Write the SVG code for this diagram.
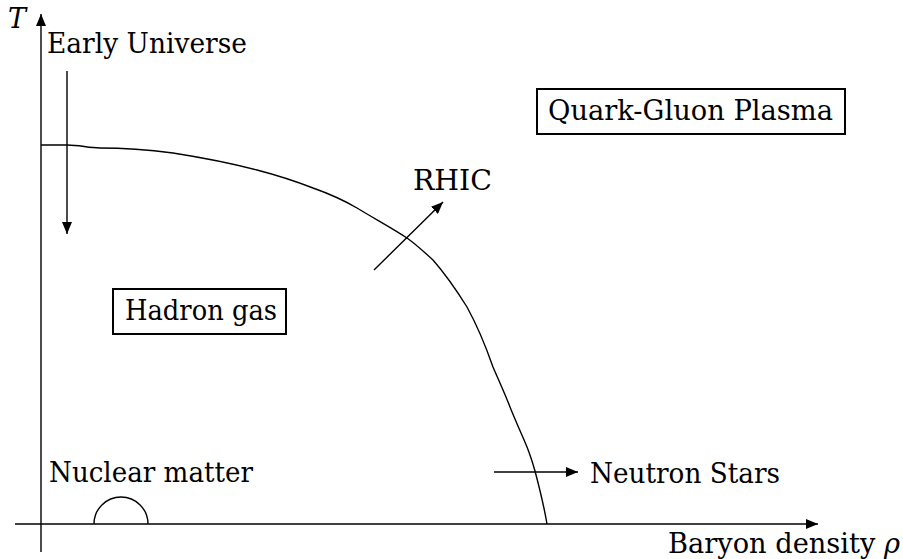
<svg xmlns="http://www.w3.org/2000/svg" width="903" height="559" viewBox="0 0 903 559">
<style>
.t{font-family:'DejaVu Serif','Liberation Serif',serif;font-size:27px;fill:#000}
.ln{stroke:#000;fill:none;stroke-width:1.4}
.box{stroke:#000;fill:#fff;stroke-width:2}
</style>
<defs>
<marker id="ah" markerUnits="userSpaceOnUse" markerWidth="14" markerHeight="10" refX="12" refY="5" orient="auto">
<path d="M0,0 L12,5 L0,10 Z" fill="#000"/>
</marker>
</defs>
<rect width="903" height="559" fill="#fff"/>
<g id="connectors">
<line class="ln" x1="41" y1="552" x2="41" y2="14" marker-end="url(#ah)"/>
<line class="ln" x1="15" y1="524" x2="818" y2="524" marker-end="url(#ah)"/>
<path class="ln" stroke-width="1.2" d="M41,145 L67,145 C80,145 88,148 100,148 C130,148 150,150 173,153 C205,158 230,163 257,170 C280,176 295,181 313,188 C330,194 345,201 357,208 C375,219 392,228 407,238 C417,245 425,253 433,260 C447,276 457,291 467,307 C478,327 486,347 493,367 C499,381 505,394 510,407 C516,422 522,435 527,447 C531,457 533,464 535,471 C540,490 544,506 547,524"/>
<line class="ln" x1="67" y1="71" x2="67" y2="234" marker-end="url(#ah)"/>
<line class="ln" x1="374" y1="270" x2="443" y2="202" marker-end="url(#ah)"/>
<line class="ln" x1="494" y1="472" x2="578" y2="472" marker-end="url(#ah)"/>
<path class="ln" d="M94,524 A27,27 0 0 1 148,524"/>
</g>
<g id="axis-T"><text class="t" x="8" y="28" font-style="italic">T</text></g>
<g id="axis-rho"><text class="t" x="668" y="553" textLength="232" lengthAdjust="spacingAndGlyphs">Baryon density <tspan font-style="italic">ρ</tspan></text></g>
<g id="early-universe"><text class="t" x="47" y="53" textLength="200" lengthAdjust="spacingAndGlyphs">Early Universe</text></g>
<g id="rhic"><text class="t" x="413" y="190" textLength="79" lengthAdjust="spacingAndGlyphs">RHIC</text></g>
<g id="qgp"><rect class="box" x="537" y="89" width="308" height="45"/><text class="t" x="548" y="120" textLength="285" lengthAdjust="spacingAndGlyphs">Quark-Gluon Plasma</text></g>
<g id="hadron-gas"><rect class="box" x="113" y="289" width="173" height="45"/><text class="t" x="125" y="320" textLength="152" lengthAdjust="spacingAndGlyphs">Hadron gas</text></g>
<g id="nuclear-matter"><text class="t" x="49" y="482" textLength="204" lengthAdjust="spacingAndGlyphs">Nuclear matter</text></g>
<g id="neutron-stars"><text class="t" x="590" y="483" textLength="190" lengthAdjust="spacingAndGlyphs">Neutron Stars</text></g>
</svg>
